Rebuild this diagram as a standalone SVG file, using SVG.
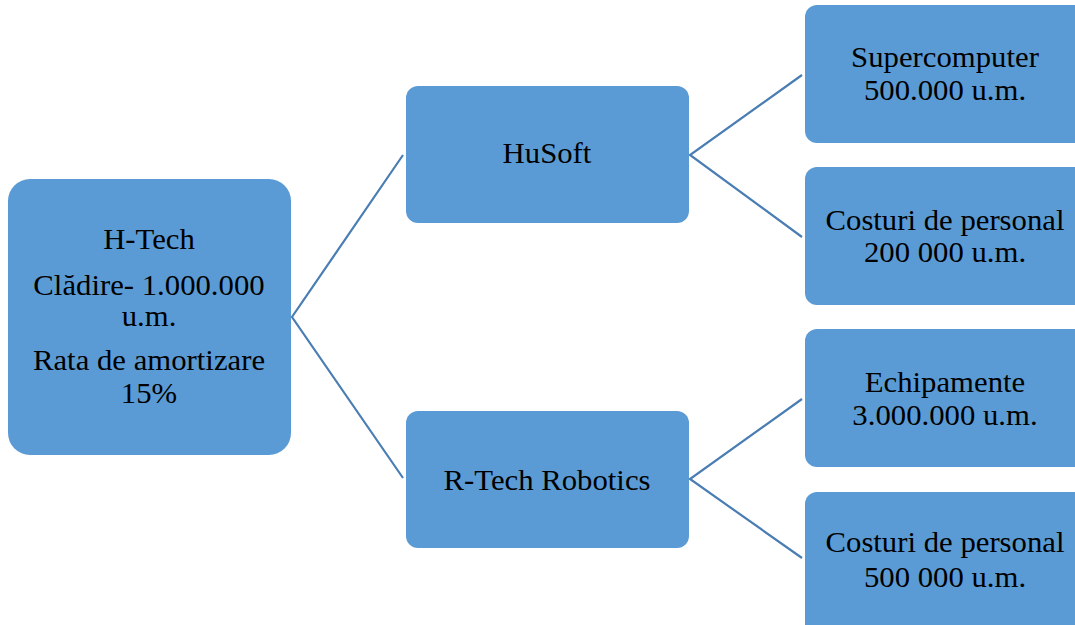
<svg xmlns="http://www.w3.org/2000/svg" width="1075" height="625" viewBox="0 0 1075 625">
<style>
.box{fill:#5B9BD5;}
.t{font-family:"Liberation Serif","Times New Roman",serif;font-size:29px;fill:#000;text-anchor:middle;}
.c{stroke:#4A7DB3;stroke-width:2.2;fill:none;}
</style>
<rect width="1075" height="625" fill="#fff"/>
<g id="connectors">
<polyline class="c" points="403,155 292,317 403,478"/>
<polyline class="c" points="802,75 690,155 802,237"/>
<polyline class="c" points="802,399 690,479 802,558"/>
</g>
<g id="h-tech">
<rect class="box" x="8" y="179" width="283" height="276" rx="22"/>
<text class="t" transform="translate(149,249) scale(1.06,1)">H-Tech</text>
<text class="t" transform="translate(149,295) scale(1.06,1)">Clădire- 1.000.000</text>
<text class="t" transform="translate(149,326) scale(1.06,1)">u.m.</text>
<text class="t" transform="translate(149,370) scale(1.06,1)">Rata de amortizare</text>
<text class="t" transform="translate(149,403) scale(1.06,1)">15%</text>
</g>
<g id="husoft">
<rect class="box" x="406" y="86" width="283" height="137" rx="12"/>
<text class="t" transform="translate(547,163) scale(1.06,1)">HuSoft</text>
</g>
<g id="rtech">
<rect class="box" x="406" y="411" width="283" height="137" rx="12"/>
<text class="t" transform="translate(547,490) scale(1.06,1)">R-Tech Robotics</text>
</g>
<g id="supercomputer">
<rect class="box" x="805" y="5" width="285" height="138" rx="12"/>
<text class="t" transform="translate(945,67) scale(1.06,1)">Supercomputer</text>
<text class="t" transform="translate(945,100) scale(1.06,1)">500.000 u.m.</text>
</g>
<g id="costuri1">
<rect class="box" x="805" y="167" width="285" height="138" rx="12"/>
<text class="t" transform="translate(945,230) scale(1.06,1)">Costuri de personal</text>
<text class="t" transform="translate(945,262) scale(1.06,1)">200 000 u.m.</text>
</g>
<g id="echipamente">
<rect class="box" x="805" y="329" width="285" height="138" rx="12"/>
<text class="t" transform="translate(945,392) scale(1.06,1)">Echipamente</text>
<text class="t" transform="translate(945,425) scale(1.06,1)">3.000.000 u.m.</text>
</g>
<g id="costuri2">
<rect class="box" x="805" y="492" width="285" height="150" rx="12"/>
<text class="t" transform="translate(945,552) scale(1.06,1)">Costuri de personal</text>
<text class="t" transform="translate(945,587) scale(1.06,1)">500 000 u.m.</text>
</g>
</svg>
